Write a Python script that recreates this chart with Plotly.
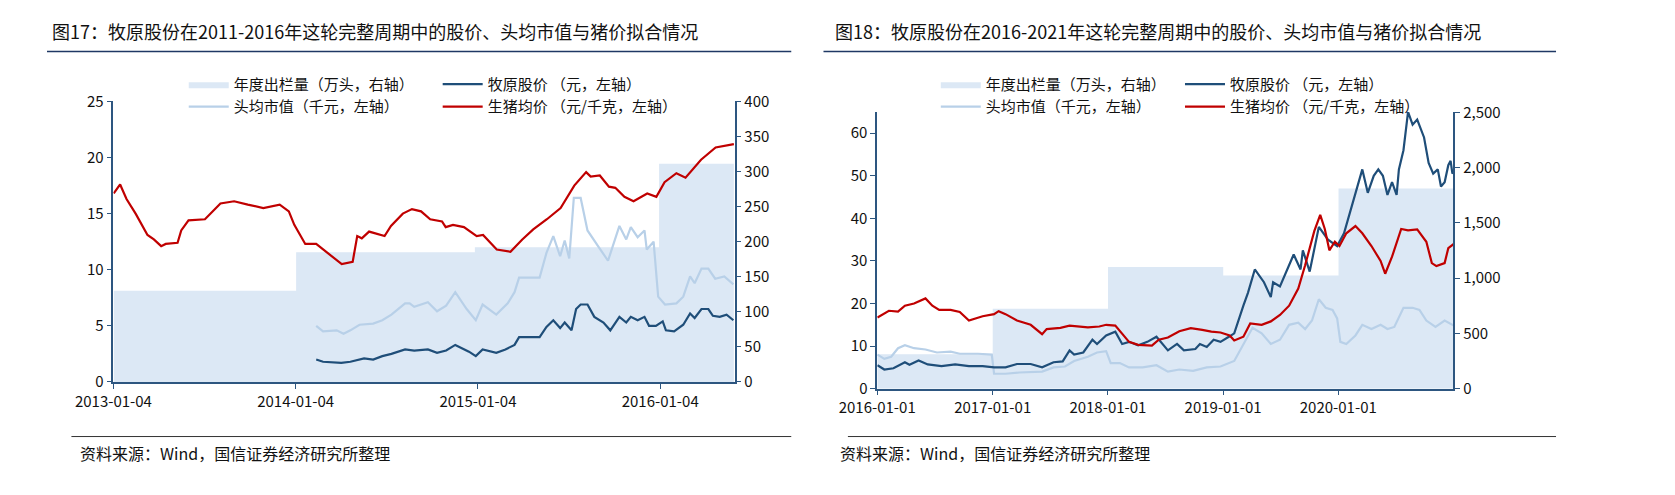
import pandas as pd
import plotly.graph_objects as go

# ---------- data (decimal years -> dates) ----------
L_out_x = [2013.01, 2014.01, 2014.99, 2016.0, 2016.41]
L_out_y = [130, 185, 192, 311, 311]
L_pig_x = [2013.01,2013.045,2013.08,2013.13,2013.195,2013.23,2013.27,2013.295,2013.36,2013.38,2013.42,2013.51,2013.595,2013.67,2013.745,2013.83,2013.92,2013.97,2014.0,2014.06,2014.12,2014.18,2014.26,2014.32,2014.345,2014.37,2014.41,2014.495,2014.53,2014.595,2014.645,2014.695,2014.745,2014.81,2014.83,2014.87,2014.93,2015.0,2015.035,2015.11,2015.185,2015.25,2015.31,2015.385,2015.46,2015.535,2015.6,2015.625,2015.675,2015.725,2015.76,2015.81,2015.86,2015.935,2015.985,2016.03,2016.095,2016.145,2016.23,2016.31,2016.41]
L_pig_y = [16.8,17.6,16.3,15.0,13.1,12.7,12.1,12.3,12.4,13.5,14.4,14.5,15.9,16.1,15.8,15.5,15.8,15.2,14.0,12.3,12.3,11.5,10.5,10.7,13.0,12.8,13.4,13.0,13.9,15.0,15.4,15.2,14.5,14.3,13.8,14.0,13.8,13.0,13.1,11.8,11.6,12.7,13.6,14.5,15.5,17.5,18.7,18.3,18.4,17.4,17.3,16.5,16.1,16.8,16.5,17.8,18.6,18.2,19.8,20.9,21.2]
L_stk_zx = [595,610,650,670,700,720,740,760,790,810,840,860,880,900,930,945,960,990,1010,1030,1040,1085,1100,1115,1130,1140,1155,1165,1175,1190,1205,1225,1240,1260,1275,1285,1300,1315,1325,1340,1355,1362,1380,1400,1415,1425,1440,1455,1465,1480,1495,1510]
L_stk_y = [2.0,1.8,1.7,1.8,2.1,2.0,2.3,2.5,2.9,2.8,2.9,2.6,2.8,3.3,2.7,2.3,2.9,2.6,2.9,3.3,4.0,4.0,4.9,5.5,4.8,5.3,4.6,6.5,6.9,6.9,5.8,5.3,4.6,5.8,5.3,5.8,5.5,5.8,5.0,5.0,5.4,4.6,4.5,5.1,6.1,5.7,6.5,6.5,5.9,5.8,6.0,5.5]
L_val_zx = [595,610,640,655,670,690,720,740,760,790,800,810,840,860,880,900,925,945,960,990,1015,1030,1040,1085,1100,1115,1130,1140,1150,1160,1175,1190,1215,1235,1260,1275,1285,1300,1315,1320,1335,1345,1360,1385,1400,1415,1425,1440,1455,1470,1490,1510]
L_val_y = [5.0,4.5,4.6,4.3,4.6,5.1,5.2,5.5,6.0,7.0,7.0,6.7,7.1,6.3,6.8,8.0,6.5,5.5,6.9,6.0,7.0,8.0,9.3,9.3,11.5,13.0,11.2,12.6,11.0,16.4,16.4,13.5,12.0,10.8,13.9,12.7,13.8,12.9,13.5,11.8,12.5,7.6,6.9,7.0,7.6,9.4,8.8,10.1,10.1,9.2,9.4,8.7]

R_out_x = [2016.0, 2017.0, 2018.0, 2019.0, 2020.0, 2021.0]
R_out_y = [311, 723, 1101, 1025, 1811, 1811]
R_pig_zx = [240,265,285,300,320,345,360,375,400,420,440,470,495,505,520,545,575,600,610,640,660,700,725,740,760,775,790,810,840,855,875,900,925,950,970,990,1010,1020,1040,1055,1080,1100,1120,1140,1160,1175,1195,1208,1218,1228,1240,1250,1265,1285,1300,1320,1340,1350,1365,1385,1400,1420,1440,1452,1462,1480,1488,1500]
R_pig_y = [16.7,18.3,18.1,19.5,20.0,21.2,19.5,18.5,18.5,18.0,16.0,17.0,17.5,18.2,17.5,16.0,15.0,12.8,14.0,14.3,14.8,14.4,14.6,15.0,14.8,13.0,11.0,10.3,10.1,11.5,12.0,13.5,14.2,13.8,13.4,13.2,12.5,11.3,12.2,15.3,15.0,15.8,17.3,19.5,23.5,29.0,37.0,40.8,37.5,32.5,34.5,33.5,36.5,38.2,36.5,33.5,30.0,27.0,31.0,37.5,37.2,37.4,34.5,29.5,28.8,29.5,33.0,34.0]
R_stk_zx = [240,255,275,300,310,330,350,380,410,440,470,495,520,545,575,600,625,645,660,670,690,710,720,740,760,775,790,810,830,850,875,895,910,935,945,960,975,990,1010,1020,1040,1050,1065,1085,1100,1105,1120,1140,1150,1165,1170,1185,1205,1225,1245,1260,1280,1300,1312,1325,1335,1345,1355,1365,1375,1380,1390,1400,1410,1420,1435,1445,1455,1465,1472,1480,1488,1493,1497,1500]
R_stk_y = [5.5,4.5,4.8,6.2,5.6,6.6,5.7,5.3,5.7,5.3,5.3,5.0,5.0,5.8,5.8,5.0,6.2,6.4,9.0,8.0,8.5,11.5,10.5,12.5,13.4,10.5,11.0,10.2,11.0,12.2,9.0,10.5,9.0,9.3,10.5,9.8,11.5,11.0,12.3,13.0,19.5,22.5,28.0,25.0,21.5,25.0,24.0,29.0,31.5,28.0,32.5,27.5,38.0,35.0,33.5,36.5,44.0,51.5,46.0,50.0,51.5,50.0,45.5,48.5,45.5,51.5,56.0,65.0,62.0,63.2,59.0,53.0,50.5,51.5,47.5,48.5,52.5,53.5,50.5,51.0]
R_val_zx = [240,255,270,285,300,320,345,370,400,420,460,490,495,520,550,580,600,625,650,670,700,720,740,750,770,790,820,850,875,900,930,960,990,1020,1040,1060,1080,1100,1120,1140,1160,1175,1190,1205,1220,1235,1245,1252,1265,1285,1300,1320,1340,1355,1370,1390,1410,1425,1440,1460,1480,1500]
R_val_y = [8.0,7.0,7.5,9.5,10.2,9.5,9.2,8.5,8.7,8.2,8.2,8.0,3.5,3.5,3.8,4.0,4.0,5.0,5.2,6.5,7.5,8.5,8.8,6.0,6.0,5.0,5.0,5.5,4.0,4.5,4.2,5.0,5.2,6.5,10.5,14.3,13.0,10.5,11.5,15.0,15.5,14.0,16.0,21.0,19.0,18.5,16.5,11.0,10.5,12.5,15.0,14.0,15.0,14.0,14.5,19.0,19.0,18.5,16.0,14.5,16.0,14.8]

def dy(years):
    return [pd.Timestamp('2013-01-01') + pd.to_timedelta((y - 2013) * 365.25, 'D') for y in years]
def lz(zx):
    return dy([2013 + (z - 147) / 400.0 for z in zx])
def rz(zx):
    return dy([2016 + (z - 240) / 252.0 for z in zx])

FILL = '#dce8f5'; DARK = '#1f4e79'; LIGHT = '#b8d0e8'; RED = '#c00000'
AX = '#2d5680'
NAMES = ['年度出栏量（万头，右轴）', '牧原股价 （元，左轴）', '头均市值（千元，左轴）', '生猪均价 （元/千克，左轴）']

fig = go.Figure()
# ya_r = right axis (primary, drawn first, behind); ya_l = left axis (overlay, on top)
def panel(xa, ya_l, ya_r, outx, outy, valx, valy, stkx, stky, pigx, pigy, lg1, lg2):
    fig.add_trace(go.Scatter(x=outx, y=outy, mode='lines', line=dict(shape='hv', width=0, color=FILL),
                             fill='tozeroy', fillcolor=FILL, name=NAMES[0], xaxis=xa, yaxis=ya_r, legend=lg1))
    fig.add_trace(go.Scatter(x=valx, y=valy, mode='lines', line=dict(color=LIGHT, width=2.2),
                             name=NAMES[2], xaxis=xa, yaxis=ya_l, legend=lg1))
    fig.add_trace(go.Scatter(x=stkx, y=stky, mode='lines', line=dict(color=DARK, width=2.2),
                             name=NAMES[1], xaxis=xa, yaxis=ya_l, legend=lg2))
    fig.add_trace(go.Scatter(x=pigx, y=pigy, mode='lines', line=dict(color=RED, width=2.2),
                             name=NAMES[3], xaxis=xa, yaxis=ya_l, legend=lg2))

panel('x', 'y2', 'y', dy(L_out_x), L_out_y, lz(L_val_zx), L_val_y, lz(L_stk_zx), L_stk_y,
      dy(L_pig_x), L_pig_y, 'legend', 'legend2')
panel('x2', 'y4', 'y3', dy(R_out_x), R_out_y, rz(R_val_zx), R_val_y, rz(R_stk_zx), R_stk_y,
      rz(R_pig_zx), R_pig_y, 'legend3', 'legend4')

W, H = 1675, 495
def px(x): return x / W
def py(y): return 1 - y / H
TF = dict(family='Liberation Sans Narrow, Noto Sans CJK SC', size=15, color='#111')
axc = dict(showline=True, linecolor=AX, linewidth=1.5, ticks='outside', tickcolor=AX, ticklen=5,
           showgrid=False, zeroline=False, tickfont=TF)

fig.update_layout(
    width=W, height=H, margin=dict(l=0, r=0, t=0, b=0), paper_bgcolor='white', plot_bgcolor='white',
    font=dict(family='Noto Sans CJK SC', color='#111'),
    xaxis=dict(domain=[px(68), px(704)], anchor='y', type='date',
               range=['2013-01-04', '2016-06-01'],
               tickvals=['2013-01-04', '2014-01-04', '2015-01-04', '2016-01-04'],
               ticktext=['2013-01-04', '2014-01-04', '2015-01-04', '2016-01-04'], **axc),
    yaxis=dict(domain=[py(378), py(85)], anchor='x', side='right', range=[0, 400], dtick=50, **axc),
    yaxis2=dict(overlaying='y', anchor='x', side='left', range=[0, 25], dtick=5, **axc),
    xaxis2=dict(domain=[px(850), px(1440)], anchor='y3', type='date',
                range=['2016-01-01', '2020-12-31'],
                tickvals=['2016-01-01', '2017-01-01', '2018-01-01', '2019-01-01', '2020-01-01'],
                ticktext=['2016-01-01', '2017-01-01', '2018-01-01', '2019-01-01', '2020-01-01'], **axc),
    yaxis3=dict(domain=[py(385), py(96)], anchor='x2', side='right', range=[0, 2505], dtick=500,
                tickformat=',', **axc),
    yaxis4=dict(overlaying='y3', anchor='x2', side='left', range=[0, 65], dtick=10, **axc),
)
lgf = dict(size=15, color='#111', family='Noto Sans CJK SC')
common = dict(orientation='v', xanchor='left', yanchor='top', bgcolor='rgba(0,0,0,0)',
              font=lgf, tracegroupgap=0, itemwidth=40)
fig.update_layout(
    legend=dict(x=px(140), y=py(50), **common),
    legend2=dict(x=px(400), y=py(50), **common),
    legend3=dict(x=px(910), y=py(50), **common),
    legend4=dict(x=px(1160), y=py(50), **common),
)

tf = dict(size=18, color='#111', family='Noto Sans CJK SC')
fig.add_annotation(text='图17：牧原股份在2011-2016年这轮完整周期中的股价、头均市值与猪价拟合情况',
                   x=px(3), y=py(12), xref='paper', yref='paper', xanchor='left', yanchor='middle',
                   showarrow=False, font=tf)
fig.add_annotation(text='图18：牧原股份在2016-2021年这轮完整周期中的股价、头均市值与猪价拟合情况',
                   x=px(805), y=py(12), xref='paper', yref='paper', xanchor='left', yanchor='middle',
                   showarrow=False, font=tf)
sf = dict(size=16, color='#111', family='Noto Sans CJK SC')
for x0 in (32, 810):
    fig.add_annotation(text='资料来源：Wind，国信证券经济研究所整理', x=px(x0), y=py(452),
                       xref='paper', yref='paper', xanchor='left', yanchor='middle',
                       showarrow=False, font=sf)
for x0, x1 in ((0, 762), (795, 1545)):
    fig.add_shape(type='line', xref='paper', yref='paper', x0=px(x0), x1=px(x1), y0=py(33), y1=py(33),
                  line=dict(color='#1f3864', width=1.5))
    fig.add_shape(type='line', xref='paper', yref='paper', x0=px(x0 + 25), x1=px(x1), y0=py(435), y1=py(435),
                  line=dict(color='#333', width=1))

fig.write_html('out.html')
